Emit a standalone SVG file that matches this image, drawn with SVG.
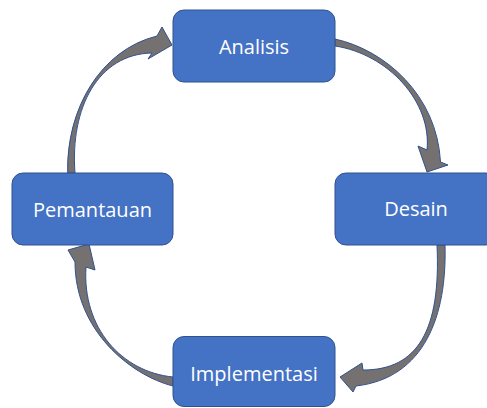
<svg xmlns="http://www.w3.org/2000/svg" width="487" height="408" viewBox="0 0 487 408">
<style>
.box{fill:#4472C4;stroke:#2F528F;stroke-width:1}
.lbl{font-family:"Open Sans","Liberation Sans",sans-serif;font-size:20px;fill:#FFFFFF;text-anchor:middle}
.arr{fill:#767171;stroke:#2F528F;stroke-width:1;stroke-linejoin:miter}
</style>
<rect width="487" height="408" fill="#FFFFFF"/>
<g id="connectors">
<path class="arr" d="M335,39 C385,50 437,95 440.5,162 L448,165 L427,172 L418,146 L427,150 C432,102 388,54 335,46 Z"/>
<path class="arr" d="M445,245 C447,315 425,378 356,386 L353,392 L340,377 L362,363 L363,370 C418,370 441,330 437,245 Z"/>
<path class="arr" d="M173,386 C130,375 75,330 75,262 L68,250 L89,244 L95,270 L86,267 C82,328 122,372 173,377 Z"/>
<path class="arr" d="M67.7,173 C66,110 100,50 157,36 L162,27 L172,45 L148,59 L152,53 C98,54 70,108 75,173 Z"/>
</g>
<g id="analisis">
<rect class="box" x="173" y="10" width="162" height="72" rx="11"/>
<text class="lbl" x="254" y="54">Analisis</text>
</g>
<g id="desain">
<rect class="box" x="335" y="173" width="162" height="72" rx="11"/>
<text class="lbl" x="416" y="216">Desain</text>
</g>
<g id="implementasi">
<rect class="box" x="173" y="336.5" width="162" height="70" rx="11"/>
<text class="lbl" x="254" y="381">Implementasi</text>
</g>
<g id="pemantauan">
<rect class="box" x="12" y="173" width="161" height="72" rx="11"/>
<text class="lbl" x="92.5" y="217">Pemantauan</text>
</g>
</svg>
